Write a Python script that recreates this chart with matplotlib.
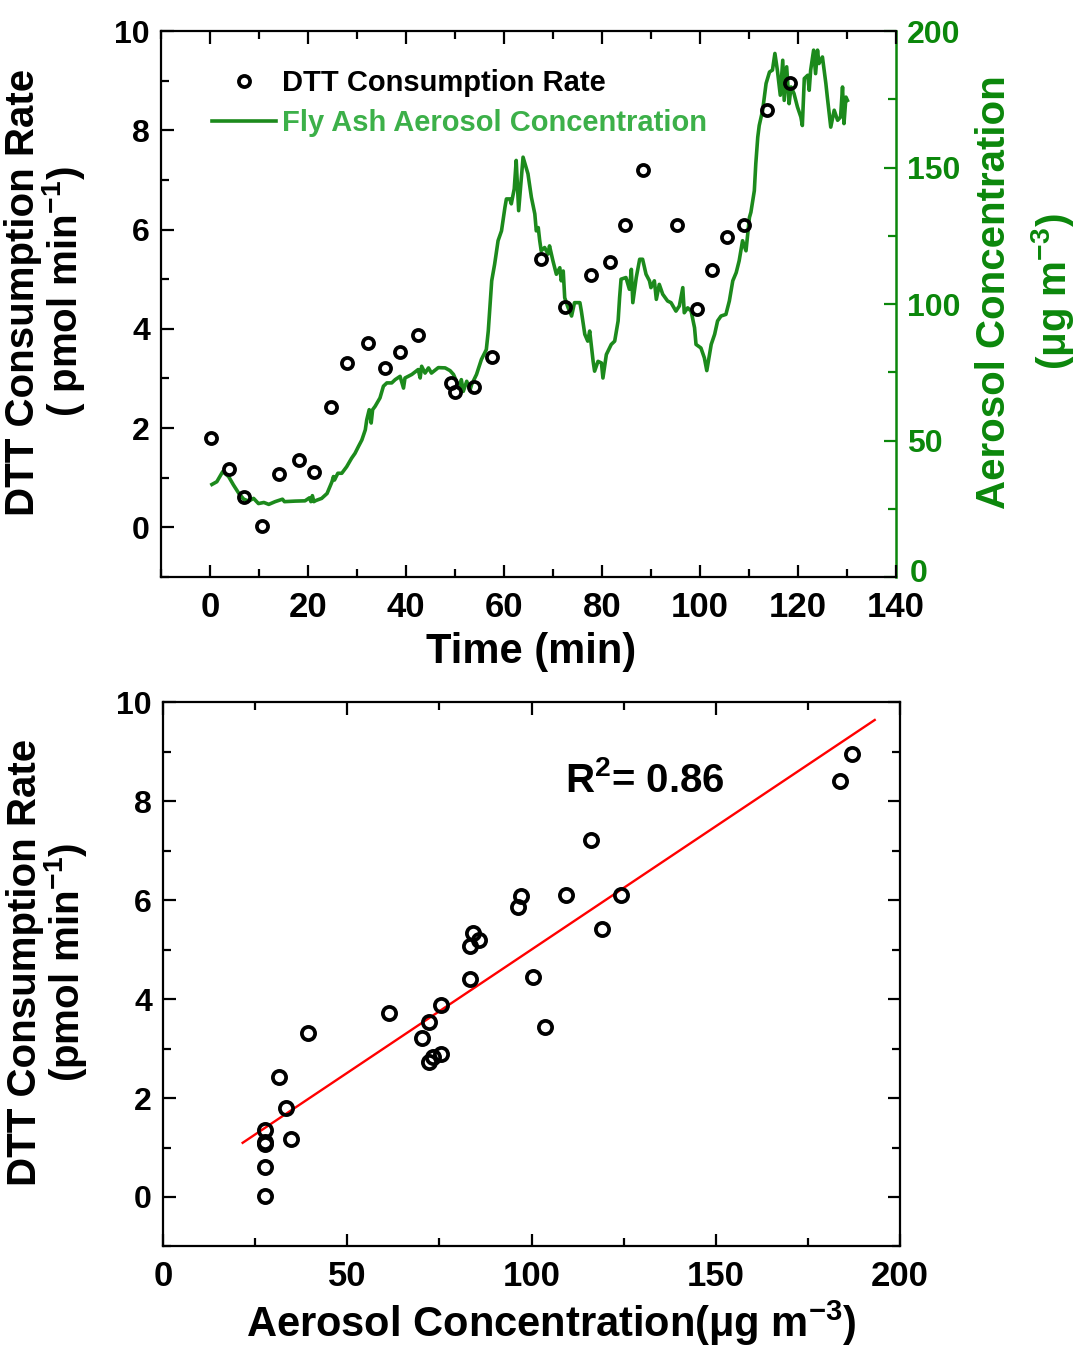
import numpy as np
import matplotlib
matplotlib.use("Agg")
import matplotlib.pyplot as plt
from matplotlib.ticker import MultipleLocator
from matplotlib.lines import Line2D
from matplotlib.transforms import ScaledTranslation

# ---- DTT consumption measurements (time in min, rate in pmol/min) ----
sample_time = [0.3, 3.8, 7.0, 10.7, 14.1, 18.1, 21.3, 24.7, 27.9, 32.2,
               35.8, 38.8, 42.5, 49.1, 50.1, 53.9, 57.5, 67.6, 72.4, 77.7,
               81.7, 84.8, 88.3, 95.3, 99.5, 102.4, 105.5, 108.9, 113.6, 118.4]
dtt_rate = [1.80, 1.17, 0.61, 0.03, 1.08, 1.36, 1.11, 2.43, 3.31, 3.72,
            3.21, 3.53, 3.88, 2.90, 2.72, 2.83, 3.44, 5.41, 4.44, 5.08,
            5.34, 6.10, 7.21, 6.09, 4.40, 5.19, 5.86, 6.10, 8.41, 8.95]
# aerosol concentration at each DTT sample (ug m-3)
sample_conc = [33.4, 34.7, 27.6, 27.6, 27.6, 27.6, 27.6, 31.6, 39.4, 61.4,
               70.2, 72.2, 75.4, 75.4, 72.2, 73.2, 103.6, 119.1, 100.3, 83.2,
               84.1, 109.2, 116.2, 97.2, 83.2, 85.6, 96.2, 124.2, 183.8, 187.0]

# ---- fly ash aerosol concentration record ----
conc_time = [0.4, 1.4, 2.2, 2.6, 3.8, 4.8, 5.9, 6.9, 7.9, 8.9, 9.9, 11.0, 12.0,
             13.3, 14.8, 15.2, 17.4, 19.4, 20.3, 20.6, 20.9, 21.2, 21.6, 22.8,
             23.9, 24.9, 25.2, 25.4, 26.1, 26.9, 27.9, 28.9, 29.6, 30.3, 31.0,
             31.7, 32.0, 32.5, 32.9, 33.2, 33.7, 34.7, 35.4, 36.1, 37.1, 37.8,
             38.8, 39.5, 39.8, 41.2, 42.5, 42.9, 43.2, 43.9, 44.6, 45.2, 46.6,
             48.0, 49.0, 49.7, 50.3, 50.7, 51.3, 51.7, 52.4, 53.1, 53.4, 54.4,
             55.4, 56.4, 56.8, 57.5, 58.1, 58.8, 59.5, 60.2, 60.5, 61.2, 61.5,
             62.1, 62.5, 63.0, 63.9, 64.9, 65.6, 66.3, 66.6, 67.0, 67.3, 67.6,
             68.3, 69.0, 69.3, 70.0, 70.7, 71.4, 71.7, 72.1, 72.4, 73.1, 73.8,
             74.4, 75.5, 75.8, 76.5, 77.1, 77.5, 78.2, 78.5, 79.2, 79.9, 80.2,
             80.9, 81.9, 82.6, 83.3, 83.6, 83.9, 84.9, 85.6, 86.0, 86.3, 87.0,
             87.7, 88.3, 89.0, 89.7, 90.0, 90.7, 91.1, 91.7, 92.4, 93.4, 94.1,
             95.1, 95.8, 96.5, 96.8, 97.5, 98.2, 98.9, 99.2, 100.2, 100.9,
             101.4, 102.3, 103.0, 103.6, 104.3, 105.3, 106.0, 106.7, 107.4,
             108.0, 108.7, 109.4, 110.1, 110.4, 111.1, 111.4, 111.8, 112.1,
             112.8, 113.5, 114.2, 114.8, 115.3, 115.8, 116.4, 116.9, 117.2,
             117.7, 118.2, 118.6, 119.2, 119.9, 120.6, 120.9, 121.3, 122.0,
             122.3, 122.6, 123.2, 123.6, 124.0, 124.3, 125.0, 125.7, 126.0,
             126.7, 127.4, 128.1, 128.7, 129.1, 129.4, 129.8, 130.1]
conc_value = [33.9, 34.9, 37.4, 38.6, 36.8, 33.7, 30.6, 28.5, 27.8, 28.8, 26.9,
              27.3, 26.6, 27.6, 28.5, 27.6, 27.8, 27.9, 29.0, 27.6, 29.8, 27.6,
              28.0, 28.8, 30.6, 34.9, 36.8, 35.5, 38.0, 38.0, 40.4, 43.5, 45.3,
              47.8, 50.2, 53.9, 57.6, 61.3, 56.4, 61.3, 62.5, 65.6, 69.9, 71.1,
              71.1, 72.3, 73.5, 69.2, 72.9, 74.2, 76.0, 72.9, 77.2, 74.7, 76.6,
              74.7, 76.7, 76.6, 75.6, 74.2, 71.7, 69.2, 72.3, 68.0, 71.7, 68.6,
              70.5, 74.2, 79.7, 83.3, 90.1, 108.5, 114.6, 123.2, 126.8, 135.4,
              138.5, 138.5, 136.7, 142.2, 152.6, 134.2, 153.8, 147.7, 139.1,
              133.0, 126.8, 128.0, 123.2, 119.5, 120.7, 118.3, 121.3, 115.8,
              110.9, 113.3, 108.5, 112.1, 102.3, 98.6, 95.6, 100.5, 100.5, 97.4,
              88.9, 86.4, 90.1, 79.0, 75.4, 79.0, 78.4, 72.9, 81.5, 85.2, 86.4,
              93.8, 102.3, 109.1, 109.7, 105.4, 112.7, 100.5, 109.7, 116.4,
              116.4, 110.9, 108.5, 106.0, 108.5, 101.7, 107.2, 103.6, 101.1,
              100.5, 97.4, 99.3, 106.0, 96.8, 98.6, 97.4, 91.3, 85.2, 83.9, 80.3,
              75.6, 85.2, 88.9, 93.8, 95.6, 96.2, 101.1, 108.5, 111.5, 115.8,
              123.2, 119.5, 131.7, 133.6, 141.5, 151.4, 161.1, 165.4, 171.0,
              180.8, 185.0, 185.7, 191.8, 185.7, 176.5, 189.3, 174.6, 186.9,
              173.4, 179.5, 177.1, 172.2, 168.5, 165.4, 182.6, 183.8, 178.3,
              185.7, 193.0, 184.4, 193.0, 188.1, 190.5, 180.8, 175.8, 164.8,
              171.0, 167.3, 168.5, 179.5, 166.1, 175.8, 174.6]

r_squared = 0.86
fit_span = [21.6, 193.1]

time_ticks = [0, 20, 40, 60, 80, 100, 120, 140]
rate_ticks = [0, 2, 4, 6, 8, 10]
conc_ticks_right = [0, 50, 100, 150, 200]
conc_ticks_x = [0, 50, 100, 150, 200]

# ---- style ----
plt.rcParams["font.family"] = ["Liberation Sans", "DejaVu Sans"]
plt.rcParams["font.weight"] = "bold"
plt.rcParams["axes.labelweight"] = "bold"
plt.rcParams["mathtext.fontset"] = "custom"
plt.rcParams["mathtext.rm"] = "Liberation Sans:bold"
plt.rcParams["mathtext.it"] = "Liberation Sans:bold"
plt.rcParams["mathtext.bf"] = "Liberation Sans:bold"
plt.rcParams["mathtext.default"] = "rm"
plt.rcParams["axes.linewidth"] = 1.6

LINE_GREEN = "#1c8a1c"
AXIS_GREEN = "#0b870b"
TEXT_GREEN = "#3cb049"

fig = plt.figure(figsize=(10.84, 13.5), dpi=100)


def style_ticks(ax, xmaj, xmin, ymaj, ymin, right=True):
    ax.xaxis.set_major_locator(MultipleLocator(xmaj))
    ax.xaxis.set_minor_locator(MultipleLocator(xmin))
    ax.yaxis.set_major_locator(MultipleLocator(ymaj))
    ax.yaxis.set_minor_locator(MultipleLocator(ymin))
    ax.tick_params(which="both", direction="in", top=True, right=right,
                   width=1.6)
    ax.tick_params(which="major", length=9)
    ax.tick_params(which="minor", length=5.5)
    ax.tick_params(axis="x", which="major", labelsize=25, pad=10)
    ax.tick_params(axis="y", which="major", labelsize=23, pad=8)


# =================== top panel: time series ===================
ax = fig.add_axes([0.1485, 0.5726, 0.678, 0.4044])
ax2 = ax.twinx()
ax.set_zorder(ax2.get_zorder() + 1)
ax.patch.set_visible(False)

ax2.plot(conc_time, conc_value, color=LINE_GREEN, lw=2.6)
ax.plot(sample_time, dtt_rate, ls="none", marker="o", mfc="none",
        mec="black", ms=8, mew=2.7)

ax.set_xlim(-10, 140)
ax.set_ylim(-1, 10)
ax2.set_ylim(0, 200)
style_ticks(ax, 20, 10, 2, 1, right=False)
ax.set_xticks(time_ticks)
ax.set_yticks(rate_ticks)

ax.spines["right"].set_visible(False)
for s in ("left", "top", "bottom"):
    ax2.spines[s].set_visible(False)
ax2.spines["right"].set_color(AXIS_GREEN)
ax2.spines["right"].set_linewidth(1.8)
ax2.yaxis.set_major_locator(MultipleLocator(50))
ax2.yaxis.set_minor_locator(MultipleLocator(25))
ax2.set_yticks(conc_ticks_right)
ax2.tick_params(which="both", direction="in", color=AXIS_GREEN, width=1.6,
                labelcolor=AXIS_GREEN, labelsize=23, pad=8)
ax2.tick_params(which="major", length=9)
ax2.tick_params(which="minor", length=5.5)

# lift the right-axis "0" slightly so it clears the time tick labels
zero_label = ax2.yaxis.get_major_ticks()[0].label2
zero_label.set_transform(zero_label.get_transform() +
                         ScaledTranslation(0.03, 0.06, fig.dpi_scale_trans))

ax.set_xlabel("Time (min)", fontsize=30)
ax.xaxis.set_label_coords(0.503, -0.100)
ax.set_ylabel("DTT Consumption Rate\n( pmol min$^{-1}$)", fontsize=29,
              linespacing=0.95)
ax.yaxis.set_label_coords(-0.100, 0.522)
ax2.set_ylabel("Aerosol Concentration\n(μg m$^{-3}$)", fontsize=29,
               color=AXIS_GREEN, linespacing=1.45)
ax2.yaxis.set_label_coords(1.107, 0.522)

handles = [Line2D([], [], ls="none", marker="o", mfc="none", mec="black",
                  ms=8, mew=2.7),
           Line2D([], [], color=LINE_GREEN, lw=2.6)]
leg = ax.legend(handles, ["DTT Consumption Rate",
                          "Fly Ash Aerosol Concentration"],
                loc="upper left", bbox_to_anchor=(0.069, 0.931),
                frameon=False, fontsize=21, handlelength=2.2,
                handletextpad=0.2, labelspacing=0.42, borderaxespad=0,
                borderpad=0)
leg.get_texts()[1].set_color(TEXT_GREEN)

# =================== bottom panel: correlation ===================
bx = fig.add_axes([0.1504, 0.0767, 0.680, 0.403])
bx.plot(sample_conc, dtt_rate, ls="none", marker="o", mfc="none",
        mec="black", ms=9.5, mew=2.7, zorder=3)

slope, intercept = np.polyfit(sample_conc, dtt_rate, 1)
fit_x = np.array(fit_span)
bx.plot(fit_x, slope * fit_x + intercept, color="red", lw=1.7, zorder=2)

bx.set_xlim(0, 200)
bx.set_ylim(-1, 10)
style_ticks(bx, 50, 25, 2, 1, right=True)
bx.set_xticks(conc_ticks_x)
bx.set_yticks(rate_ticks)

bx.text(109, 8.42, "R$^2$= %.2f" % r_squared, fontsize=29,
        ha="left", va="center")

bx.set_xlabel("Aerosol Concentration(μg m$^{-3}$)", fontsize=30)
bx.xaxis.set_label_coords(0.527, -0.095)
bx.set_ylabel("DTT Consumption Rate\n(pmol min$^{-1}$)", fontsize=29,
              linespacing=0.95)
bx.yaxis.set_label_coords(-0.100, 0.522)

fig.savefig("out.png", dpi=100)
